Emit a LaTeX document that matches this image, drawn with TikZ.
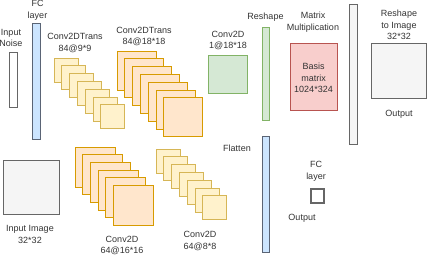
\documentclass[tikz,border=0pt]{standalone}
\usepackage{fontspec}
\setmainfont{Liberation Sans}
\definecolor{txt}{HTML}{333333}
\definecolor{yfill}{HTML}{FFF2CC}\definecolor{ydraw}{HTML}{D6B656}
\definecolor{ofill}{HTML}{FFE6CC}\definecolor{odraw}{HTML}{D79B00}
\definecolor{gfill}{HTML}{D5E8D4}\definecolor{gdraw}{HTML}{82B366}
\definecolor{bfill}{HTML}{CCE5FF}\definecolor{bdraw}{HTML}{5A6475}
\definecolor{rfill}{HTML}{F8CECC}\definecolor{rdraw}{HTML}{B85450}
\definecolor{kfill}{HTML}{F5F5F5}\definecolor{kdraw}{HTML}{666666}
\begin{document}
\begin{tikzpicture}[x=1pt,y=-1pt,
  lbl/.style={text=txt,font=\fontsize{9}{11.5}\selectfont,align=center,inner sep=0pt},
  box/.style={line width=0.9pt,inner sep=0pt,outer sep=0pt,anchor=north west},
  ysq/.style={box,fill=yfill,draw=ydraw,minimum width=24pt,minimum height=24pt},
  osq/.style={box,fill=ofill,draw=odraw},
  gsq/.style={box,fill=gfill,draw=gdraw},
  bbar/.style={box,fill=bfill,draw=bdraw},
  rbox/.style={box,fill=rfill,draw=rdraw},
  kbox/.style={box,fill=kfill,draw=kdraw}]
\useasboundingbox (0,0) rectangle (428,256);
% Input noise
\node[kbox,fill=white,minimum width=8pt,minimum height=55pt] (noise) at (9,52) {};
\node[lbl] (noiseL) at (11,38) {Input\\Noise};
% FC bar
\node[bbar,minimum width=8pt,minimum height=116pt] (fc1) at (32,23) {};
\node[lbl] (fc1L) at (37.5,10.5) {FC\\layer};
% Conv2DTrans 84@9*9
\foreach \i in {0,...,6}{
  \node[ysq] (ta\i) at ({54+\i*7.8},{58+\i*7.8}) {};
}
\node[lbl] (taL) at (75,43) {Conv2DTrans\\84@9*9};
% Conv2DTrans 84@18*18
\foreach \i in {0,...,6}{
  \node[osq,minimum width=39pt,minimum height=39pt] (tb\i) at ({117+\i*7.8},{51+\i*7.8}) {};
}
\node[lbl] (tbL) at (144,36.5) {Conv2DTrans\\84@18*18};
% Conv2D 1@18*18
\node[gsq,minimum width=39pt,minimum height=38pt] (g1) at (208,55) {};
\node[lbl] (g1L) at (228,40.5) {Conv2D\\1@18*18};
% Reshape bar
\node[gsq,minimum width=7pt,minimum height=93pt] (resh) at (262,27) {};
\node[lbl] (reshL) at (265.5,17) {Reshape};
% Matrix multiplication
\node[lbl] (mmL) at (313,22) {Matrix\\Multiplication};
\node[rbox,minimum width=47pt,minimum height=67pt] (basis) at (290,43) {};
\node[lbl,text=txt] (basisL) at (313.5,78) {Basis\\matrix\\1024*324};
% Gray tall bar
\node[kbox,minimum width=8pt,minimum height=140pt] (kbar) at (349,4) {};
% Output image
\node[lbl] (riL) at (399,25) {Reshape\\to Image\\32*32};
\node[kbox,minimum width=55pt,minimum height=55pt] (outimg) at (371,43) {};
\node[lbl] (outL) at (399,114) {Output};
% Input image
\node[kbox,minimum width=56pt,minimum height=54pt] (inimg) at (3,160) {};
\node[lbl] (inL) at (30,234.5) {Input Image\\32*32};
% Conv2D 64@16*16
\foreach \i in {0,...,5}{
  \node[osq,minimum width=40pt,minimum height=40pt] (ca\i) at ({75+\i*7.7},{147+\i*7.7}) {};
}
\node[lbl] (caL) at (122,245.5) {Conv2D\\64@16*16};
% Conv2D 64@8*8
\foreach \i in {0,...,6}{
  \node[ysq] (cb\i) at ({156+\i*7.8},{149+\i*7.8}) {};
}
\node[lbl] (cbL) at (200,241) {Conv2D\\64@8*8};
% Flatten
\node[bbar,minimum width=7pt,minimum height=116pt] (flat) at (262,136) {};
\node[lbl] (flatL) at (237,148) {Flatten};
% FC layer output
\node[lbl] (fc2L) at (316,171.5) {FC\\layer};
\node[box,draw=kdraw,line width=1.3pt,fill=white,minimum width=13pt,minimum height=14pt] (fcout) at (311,189) {};
\node[lbl] (fcoutL) at (302,218) {Output};
\end{tikzpicture}
\end{document}
